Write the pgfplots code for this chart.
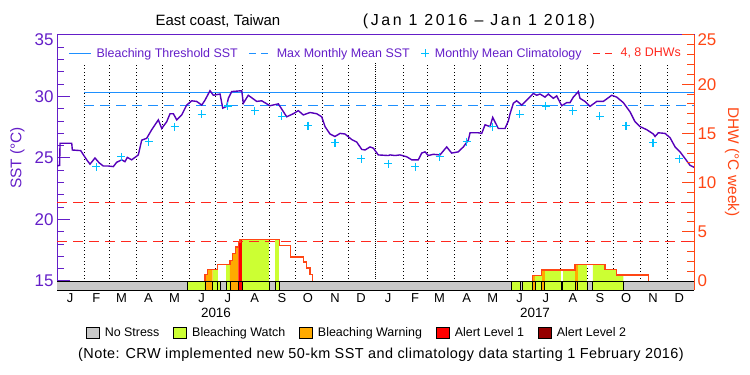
\documentclass[border=0pt]{standalone}
\usepackage{fontspec}
\setmainfont{Liberation Sans}
\usepackage{pgfplots}
\pgfplotsset{compat=1.18}
\definecolor{purp}{RGB}{100,30,200}
\definecolor{sstc}{RGB}{85,0,185}
\definecolor{thr}{RGB}{30,144,255}
\definecolor{clim}{RGB}{0,191,255}
\definecolor{dhwred}{RGB}{255,40,30}
\definecolor{raxis}{RGB}{255,70,20}
\definecolor{nostress}{RGB}{200,200,200}
\definecolor{watch}{RGB}{204,255,51}
\definecolor{warn}{RGB}{255,170,0}
\definecolor{alertA}{RGB}{255,0,0}
\definecolor{alertB}{RGB}{150,0,0}
\pgfplotsset{/pgf/number format/assume math mode=true}
\begin{document}
\begin{tikzpicture}
\path[use as bounding box] (0bp,0bp) rectangle (750bp,375bp);
% ---------------- SST axis ----------------
\begin{axis}[
  at={(57bp,85bp)}, anchor=south west,
  scale only axis, width=637bp, height=255bp,
  xmin=0, xmax=731, ymin=14.268, ymax=35,
  axis line style={line width=1bp},
  x axis line style={black},
  y axis line style={purp},
  xtick={15,45,74,105,135,166,196,227,258,288,319,349,380,411,439,470,500,531,561,592,623,653,684,714},
  xticklabels={J,F,M,A,M,J,J,A,S,O,N,D,J,F,M,A,M,J,J,A,S,O,N,D},
  xtick style={draw=none},
  xticklabel style={font=\fontsize{13}{13}\selectfont, black},
  ytick={15,20,25,30}, extra y ticks={35},
  extra y tick style={yticklabel style={yshift=-5bp}},
  minor ytick={16,17,18,19,21,22,23,24,26,27,28,29,31,32,33,34},
  ytick pos=left, tick align=inside,
  y tick style={purp, line width=1bp},
  major tick length=13bp, minor tick length=7bp,
  yticklabel style={purp, font=\fontsize{17}{17}\selectfont},
  legend columns=4,
  legend style={at={(axis description cs:0.018,0.928)}, anchor=west, draw=none, fill=none, inner sep=0pt,
    font=\fontsize{12.5}{12.5}\selectfont,
    /tikz/every odd column/.append style={column sep=3bp},
    /tikz/every even column/.append style={column sep=9bp}},
]
\addlegendimage{legend image code/.code={\draw[thr,line width=1bp] (0bp,0bp)--(22bp,0bp);}}
\addlegendentry{\textcolor{purp}{Bleaching Threshold SST}}
\addlegendimage{legend image code/.code={\draw[thr,line width=1bp,dash pattern=on 7bp off 5bp] (0bp,0bp)--(22bp,0bp);}}
\addlegendentry{\textcolor{purp}{Max Monthly Mean SST}}
\addlegendimage{legend image code/.code={\draw[clim,line width=1.2bp] (6bp,-4bp)--(6bp,4bp) (2bp,0bp)--(10bp,0bp);}}
\addlegendentry{\textcolor{purp}{Monthly Mean Climatology}}
\addlegendimage{legend image code/.code={\draw[dhwred,line width=1bp,dash pattern=on 7bp off 5bp] (0bp,0bp)--(22bp,0bp);}}
\addlegendentry{\textcolor{dhwred}{4, 8 DHWs}}

\pgfplotsinvokeforeach{31,60,91,121,152,182,213,244,274,305,335,397,425,456,486,517,547,578,609,639,670,700}{
  \addplot[black, line width=0.9bp, dash pattern=on 0.9bp off 2.6bp, forget plot] coordinates {(#1,15.15) (#1,32.72)};
}
\addplot[black, line width=1bp, dash pattern=on 1bp off 1.2bp, forget plot] coordinates {(366,15.15) (366,32.72)};

\addplot[thr, line width=1bp, forget plot] coordinates {(31,30.3) (731,30.3)};
\addplot[thr, line width=1bp, dash pattern=on 10bp off 6bp, forget plot] coordinates {(31,29.3) (731,29.3)};

\addplot[sstc, line width=1.4bp, forget plot] coordinates {
(0,24.35) (3,24.4) (3.5,26.2) (16.9,26.2) (17.6,25.65) (27.2,25.6) (34.1,24.85) (37.9,24.5) (43.6,25.0) (48.5,24.6)
(53.1,24.35) (58.8,24.35) (64.6,24.3) (68.5,24.65) (74.2,24.85) (78.0,24.7) (80.7,25.05) (85.7,24.85) (89.5,25.05)
(93.3,25.25) (97.2,26.45) (102.9,26.6) (108.7,27.3) (116.3,28.1) (120.2,27.4) (125.9,27.95) (129.7,28.6) (133.5,28.6)
(137.4,28.1) (143.1,28.5) (148.8,29.3) (154.6,29.65) (160.3,29.6) (166.1,29.3) (169.8,29.7) (175.6,30.47) (179.4,30.1)
(187.1,30.2) (190.2,29.05) (194.7,29.2) (196.6,29.85) (200.5,30.4) (212.0,30.47) (213.8,29.45) (219.5,30.1) (229.2,29.6)
(234.9,29.65) (244.4,29.25) (254.0,29.4) (263.6,28.35) (271.2,28.6) (276.9,28.85) (282.7,28.5) (290.3,28.7) (298.0,28.6)
(303.8,28.35) (307.6,27.55) (313.3,26.95) (319.0,26.75) (324.8,27.0) (330.5,26.95) (338.2,26.5) (343.9,26.3) (349.7,25.7)
(353.5,25.65) (359.2,25.9) (363.0,25.8) (368.7,25.25) (380.2,25.2) (382.2,25.25) (387.9,25.2) (393.6,25.25) (401.3,25.1)
(407.1,24.85) (414.6,24.85) (418.5,25.4) (422.3,25.5) (426.1,25.2) (431.8,25.3) (439.5,25.25) (447.2,25.9) (452.9,25.4)
(460.5,25.5) (466.3,25.9) (472.0,26.45) (474.0,27.05) (483.5,27.05) (487.4,27.0) (491.2,27.7) (496.9,27.55) (500.0,28.3)
(506.4,27.4) (514.1,27.4) (517.9,28.0) (519.9,28.6) (523.7,29.45) (527.5,29.65) (533.3,29.3) (539.0,29.7) (546.6,30.25)
(550.5,30.1) (554.3,30.2) (560.0,29.95) (563.8,30.2) (569.6,29.85) (573.4,30.05) (579.2,29.25) (584.9,29.5) (588.7,29.5)
(592.5,29.95) (598.3,30.4) (600.2,29.85) (605.9,29.6) (611.7,29.2) (619.4,29.6) (626.9,29.6) (636.6,30.1) (642.3,29.95)
(649.9,29.5) (657.6,28.75) (663.3,27.95) (669.1,27.55) (676.8,27.3) (684.3,26.95) (686.3,26.75) (690.1,27.05) (697.8,27.0)
(703.5,26.65) (709.3,25.9) (715.0,25.5) (720.8,24.95) (726.5,24.4) (731,24.25)
};

\addplot[clim, only marks, mark=+, mark size=4bp, line width=1.2bp, forget plot] coordinates {
(45,24.3) (74,25.1) (105,26.33) (135,27.55) (166,28.55) (196,29.23) (227,28.85) (258,28.4) (288,27.63) (319,26.25) (349,24.95)
(380,24.55) (411,24.3) (439,25.1) (470,26.33) (500,27.55) (531,28.55) (561,29.23) (592,28.85) (623,28.4) (653,27.63) (684,26.25) (714,24.95)
};
\end{axis}

% ---------------- DHW axis ----------------
\begin{axis}[
  at={(57bp,85bp)}, anchor=south west,
  scale only axis, width=637bp, height=255bp,
  xmin=0, xmax=731, ymin=-0.9146, ymax=25,
  axis x line=none, axis y line*=right, clip=false,
  y axis line style={raxis, line width=1bp},
  ytick={0,5,10,15,20}, extra y ticks={25},
  extra y tick style={yticklabel style={yshift=-5bp}},
  minor ytick={1,2,3,4,6,7,8,9,11,12,13,14,16,17,18,19,21,22,23,24},
  tick align=inside,
  y tick style={raxis, line width=1bp},
  major tick length=12bp, minor tick length=7bp,
  yticklabel style={raxis, font=\fontsize{17}{17}\selectfont},
  legend columns=5,
  legend style={at={(axis description cs:0.471,-0.169)}, anchor=center, draw=none, fill=none, inner sep=0pt,
    font=\fontsize{12.5}{12.5}\selectfont,
    /tikz/every odd column/.append style={column sep=3bp},
    /tikz/every even column/.append style={column sep=12bp}},
]
\addlegendimage{legend image code/.code={\draw[fill=nostress,draw=black,line width=0.8bp] (0bp,-5.5bp) rectangle (13bp,5.5bp);}}
\addlegendentry{No Stress}
\addlegendimage{legend image code/.code={\draw[fill=watch,draw=black,line width=0.8bp] (0bp,-5.5bp) rectangle (13bp,5.5bp);}}
\addlegendentry{Bleaching Watch}
\addlegendimage{legend image code/.code={\draw[fill=warn,draw=black,line width=0.8bp] (0bp,-5.5bp) rectangle (13bp,5.5bp);}}
\addlegendentry{Bleaching Warning}
\addlegendimage{legend image code/.code={\draw[fill=alertA,draw=black,line width=0.8bp] (0bp,-5.5bp) rectangle (13bp,5.5bp);}}
\addlegendentry{Alert Level 1}
\addlegendimage{legend image code/.code={\draw[fill=alertB,draw=black,line width=0.8bp] (0bp,-5.5bp) rectangle (13bp,5.5bp);}}
\addlegendentry{Alert Level 2}

% no-stress strip
\addplot[fill=nostress, draw=none, forget plot] coordinates {(0,-0.9146) (0,0) (731,0) (731,-0.9146)} -- cycle;
% 2016 alert fills
\addplot[fill=watch, draw=none, forget plot] coordinates {(149.5,-0.9146) (149.5,0) (169.8,0) (169.8,-0.9146)} -- cycle;
\addplot[fill=warn, draw=none, forget plot] coordinates {(169.8,-0.9146) (169.8,0.64) (172.9,0.64) (172.9,1.15) (178.6,1.15) (178.6,-0.9146)} -- cycle;
\addplot[fill=watch, draw=none, forget plot] coordinates {(178.6,-0.9146) (178.6,1.15) (184.4,1.15) (184.4,-0.9146)} -- cycle;
\addplot[fill=watch, draw=none, forget plot] coordinates {(184.4,-0.9146) (184.4,0) (187.8,0) (187.8,-0.9146)} -- cycle;
\addplot[fill=watch, draw=none, forget plot] coordinates {(194,-0.9146) (194,1.7) (198.5,1.7) (198.5,-0.9146)} -- cycle;
\addplot[fill=warn, draw=none, forget plot] coordinates {(198.5,-0.9146) (198.5,2.1) (201.6,2.1) (201.6,2.8) (205.1,2.8) (205.1,3.46) (208.1,3.46) (208.1,-0.9146)} -- cycle;
\addplot[fill=alertA, draw=none, forget plot] coordinates {(208.1,-0.9146) (208.1,3.96) (210,3.96) (210,4.2) (212.5,4.2) (212.5,-0.9146)} -- cycle;
\addplot[fill=watch, draw=none, forget plot] coordinates {(212.5,-0.9146) (212.5,4.2) (243.6,4.2) (243.6,-0.9146)} -- cycle;
\addplot[fill=watch, draw=none, forget plot] coordinates {(250.2,-0.9146) (250.2,4.2) (255.1,4.2) (255.1,-0.9146)} -- cycle;
% 2017 alert fills
\addplot[fill=watch, draw=none, forget plot] coordinates {(521.8,-0.9146) (521.8,0) (532.1,0) (532.1,-0.9146)} -- cycle;
\addplot[fill=watch, draw=none, forget plot] coordinates {(534.4,-0.9146) (534.4,0) (545.4,0) (545.4,-0.9146)} -- cycle;
\addplot[fill=warn, draw=none, forget plot] coordinates {(545.4,-0.9146) (545.4,0.54) (548.9,0.54) (548.9,-0.9146)} -- cycle;
\addplot[fill=watch, draw=none, forget plot] coordinates {(548.9,-0.9146) (548.9,0.54) (556.2,0.54) (556.2,-0.9146)} -- cycle;
\addplot[fill=warn, draw=none, forget plot] coordinates {(556.2,-0.9146) (556.2,1.12) (559.5,1.12) (559.5,-0.9146)} -- cycle;
\addplot[fill=watch, draw=none, forget plot] coordinates {(559.5,-0.9146) (559.5,1.12) (578.8,1.12) (578.8,-0.9146)} -- cycle;
\addplot[fill=watch, draw=none, forget plot] coordinates {(580.6,-0.9146) (580.6,1.12) (594.4,1.12) (594.4,-0.9146)} -- cycle;
\addplot[fill=warn, draw=none, forget plot] coordinates {(594.4,-0.9146) (594.4,1.7) (597.5,1.7) (597.5,-0.9146)} -- cycle;
\addplot[fill=watch, draw=none, forget plot] coordinates {(597.5,-0.9146) (597.5,1.7) (608.3,1.7) (608.3,-0.9146)} -- cycle;
\addplot[fill=watch, draw=none, forget plot] coordinates {(615,-0.9146) (615,1.7) (628.9,1.7) (628.9,1.19) (642.3,1.19) (642.3,0.61) (650,0.61) (650,-0.9146)} -- cycle;
% strip boundaries
\pgfplotsinvokeforeach{149.5,169.8,178.6,184.4,187.8,194,198.5,208.1,212.5,243.6,250.2,255.1,521.8,532.1,534.4,545.4,548.9,556.2,559.5,578.8,580.6,594.4,597.5,608.3,615,650}{
  \addplot[black, line width=0.9bp, forget plot] coordinates {(#1,-0.9146) (#1,0)};
}
\addplot[black, line width=1bp, forget plot] coordinates {(0,0) (731,0)};
\addplot[black, line width=1bp, forget plot] coordinates {(0,-0.9146) (731,-0.9146)};
% DHW 4 and 8
\addplot[dhwred, line width=1bp, dash pattern=on 10bp off 6bp, forget plot] coordinates {(0,4) (731,4)};
\addplot[dhwred, line width=1bp, dash pattern=on 10bp off 6bp, forget plot] coordinates {(0,8) (731,8)};
% DHW outline
\addplot[raxis, line width=1.3bp, forget plot] coordinates {
(169.8,0) (169.8,0.64) (172.9,0.64) (172.9,1.15) (184.4,1.15) (184.4,1.7) (198.5,1.7) (198.5,2.1) (201.6,2.1) (201.6,2.8)
(205.1,2.8) (205.1,3.46) (208.1,3.46) (208.1,3.96) (210,3.96) (210,4.2) (255.1,4.2) (255.1,3.63) (268.2,3.63) (268.2,2.44)
(282.7,2.44) (282.7,1.93) (286.6,1.93) (286.6,1.32) (290.3,1.32) (290.3,0.68) (293.4,0.68) (293.4,0)};
\addplot[raxis, line width=1.3bp, forget plot] coordinates {
(545.4,0) (545.4,0.54) (556.2,0.54) (556.2,1.12) (594.4,1.12) (594.4,1.7) (628.9,1.7) (628.9,1.19) (642.3,1.19) (642.3,0.61)
(678.6,0.61) (678.6,0)};
\end{axis}

% texts
\node[font=\fontsize{15}{15}\selectfont] at (218bp,354bp) {East coast, Taiwan};
\node[font=\fontsize{16}{16}\selectfont\addfontfeatures{LetterSpace=16}] at (479bp,354bp) {(Jan 1 2016 – Jan 1 2018)};
\node[font=\fontsize{13.5}{13.5}\selectfont] at (216bp,62bp) {2016};
\node[font=\fontsize{13.5}{13.5}\selectfont] at (535bp,62bp) {2017};
\node[font=\fontsize{14.5}{14.5}\selectfont\addfontfeatures{LetterSpace=3}] at (381bp,20bp) {(Note: CRW implemented new 50-km SST and climatology data starting 1 February 2016)};
\node[rotate=90, text=purp, font=\fontsize{15.5}{15.5}\selectfont] at (17.5bp,217bp) {SST (°C)};
\node[rotate=-90, text=raxis, font=\fontsize{15.5}{15.5}\selectfont] at (732bp,213bp) {DHW (°C week)};
\end{tikzpicture}
\end{document}
